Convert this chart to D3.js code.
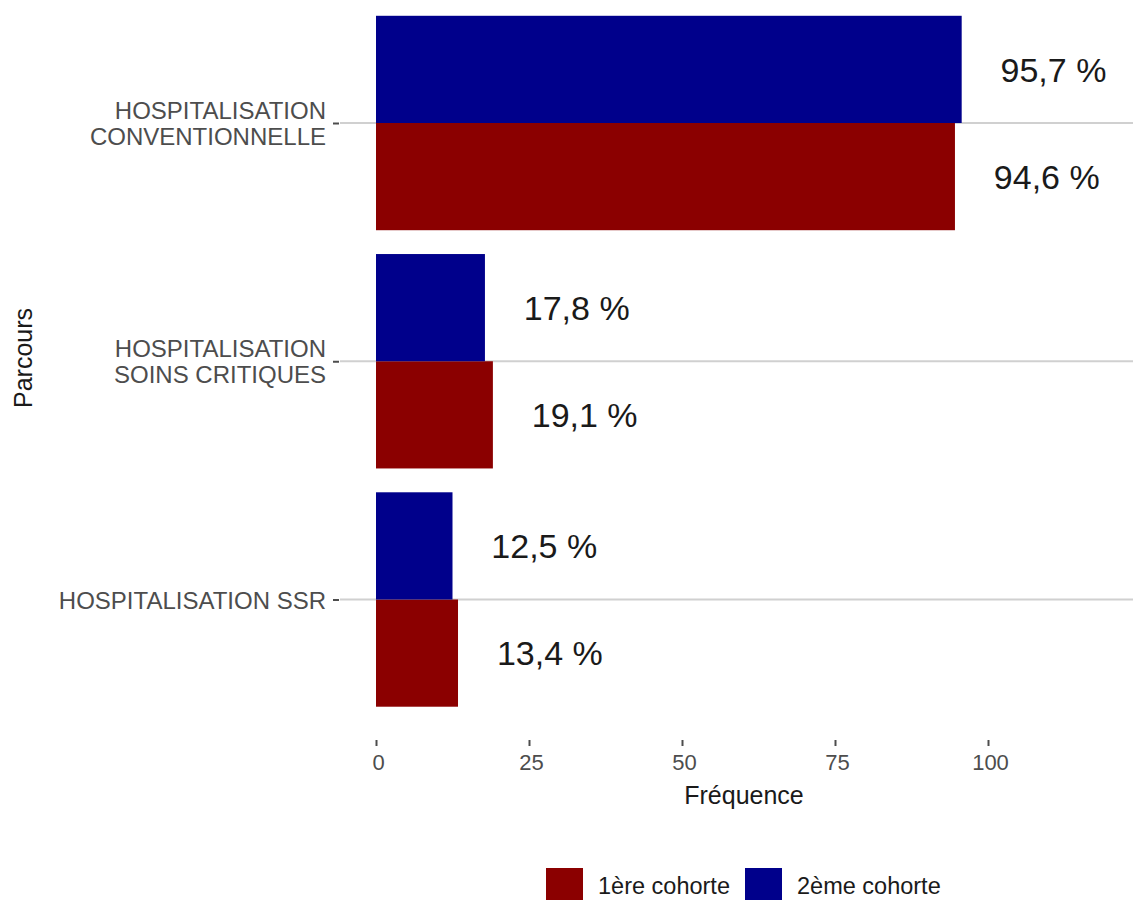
<!DOCTYPE html>
<meta charset="utf-8">
<style>
body { margin: 0; background: #fff; }
text { font-family: "Liberation Sans", Arial, sans-serif; }
.grid { stroke: #d0d0d0; stroke-width: 1.8; }
.tick line { stroke: #4d4d4d; stroke-width: 2; }
.xaxis text { font-family: "Liberation Sans Narrow", "Liberation Sans", sans-serif; font-size: 22px; fill: #4d4d4d; }
.yaxis text { font-size: 24px; fill: #4d4d4d; }
.val { font-size: 34px; fill: #1a1a1a; }
.title { font-size: 25px; fill: #1a1a1a; }
.leg { font-size: 23.5px; fill: #1a1a1a; }
</style>
<body>
<script src="https://d3js.org/d3.v7.min.js"></script>
<script>

// data
var categories = ["HOSPITALISATION\nCONVENTIONNELLE", "HOSPITALISATION\nSOINS CRITIQUES", "HOSPITALISATION SSR"];
var cohorts = ["1ère cohorte", "2ème cohorte"];
var cohorte1 = [94.6, 19.1, 13.4];
var cohorte2 = [95.7, 17.8, 12.5];
var xTicks = [0, 25, 50, 75, 100];
var colors = ["#8b0000", "#00008b"];

var W = 1133, H = 900;
var panelLeft = 340, panelRight = 1133, axisY = 740;

var svg = d3.select("body").append("svg")
    .attr("width", W)
    .attr("height", H);

// scales
var x = d3.scaleLinear().domain([0, 100]).range([376, 988]);
var y = d3.scalePoint().domain(categories).range([123, 599.5]);
var half = y.step() * 0.45;
// 2ème cohorte on top, 1ère below
var sub = d3.scaleBand().domain(["2ème cohorte", "1ère cohorte"]).range([-half, half]);

var rows = [];
categories.forEach(function(c, i) {
  rows.push({cat: c, cohort: cohorts[0], value: cohorte1[i]});
  rows.push({cat: c, cohort: cohorts[1], value: cohorte2[i]});
});
var color = d3.scaleOrdinal().domain(cohorts).range(colors);

// grid lines
svg.selectAll(".grid")
    .data(categories)
  .enter().append("line")
    .attr("class", "grid")
    .attr("x1", panelLeft).attr("x2", panelRight)
    .attr("y1", function(d) { return y(d); })
    .attr("y2", function(d) { return y(d); });

// bars
svg.selectAll(".bar")
    .data(rows)
  .enter().append("rect")
    .attr("class", "bar")
    .attr("x", x(0))
    .attr("y", function(d) { return y(d.cat) + sub(d.cohort); })
    .attr("width", function(d) { return x(d.value) - x(0); })
    .attr("height", sub.bandwidth())
    .attr("fill", function(d) { return color(d.cohort); });

// value labels
svg.selectAll(".val")
    .data(rows)
  .enter().append("text")
    .attr("class", "val")
    .attr("x", function(d) { return x(d.value + 15); })
    .attr("y", function(d) { return y(d.cat) + sub(d.cohort) + sub.bandwidth() / 2; })
    .attr("dy", "0.36em")
    .attr("text-anchor", "middle")
    .text(function(d) { return d.value.toFixed(1).replace(".", ",") + " %"; });

// x axis
var gx = svg.append("g")
    .attr("class", "xaxis")
    .attr("transform", "translate(0," + axisY + ")")
    .call(d3.axisBottom(x).tickValues(xTicks).tickSize(6).tickPadding(8));
gx.select(".domain").remove();
gx.selectAll(".tick text").attr("dx", 2);

// y axis
var gy = svg.append("g")
    .attr("class", "yaxis")
    .attr("transform", "translate(339,0)")
    .call(d3.axisLeft(y).tickSize(6).tickPadding(7));
gy.select(".domain").remove();
gy.selectAll(".tick text").each(function(d) {
  var t = d3.select(this), lines = d.split("\n");
  t.text(null).attr("dy", null);
  lines.forEach(function(l, i) {
    t.append("tspan")
      .attr("x", -13)
      .attr("y", (i - (lines.length - 1) / 2) * 26)
      .attr("dy", "0.36em")
      .text(l);
  });
});

// axis titles
svg.append("text")
    .attr("class", "title")
    .attr("x", 744).attr("y", 804)
    .attr("text-anchor", "middle")
    .text("Fréquence");
svg.append("text")
    .attr("class", "title")
    .attr("transform", "translate(32,358) rotate(-90)")
    .attr("text-anchor", "middle")
    .text("Parcours");

// legend
var legX = [546, 745];
var leg = svg.selectAll(".legitem")
    .data(cohorts)
  .enter().append("g")
    .attr("transform", function(d, i) { return "translate(" + legX[i] + ",868)"; });
leg.append("rect")
    .attr("width", 37).attr("height", 37)
    .attr("fill", function(d) { return color(d); });
leg.append("text")
    .attr("class", "leg")
    .attr("x", 52).attr("y", 18)
    .attr("dy", "0.36em")
    .text(function(d) { return d; });

</script>
</body>
